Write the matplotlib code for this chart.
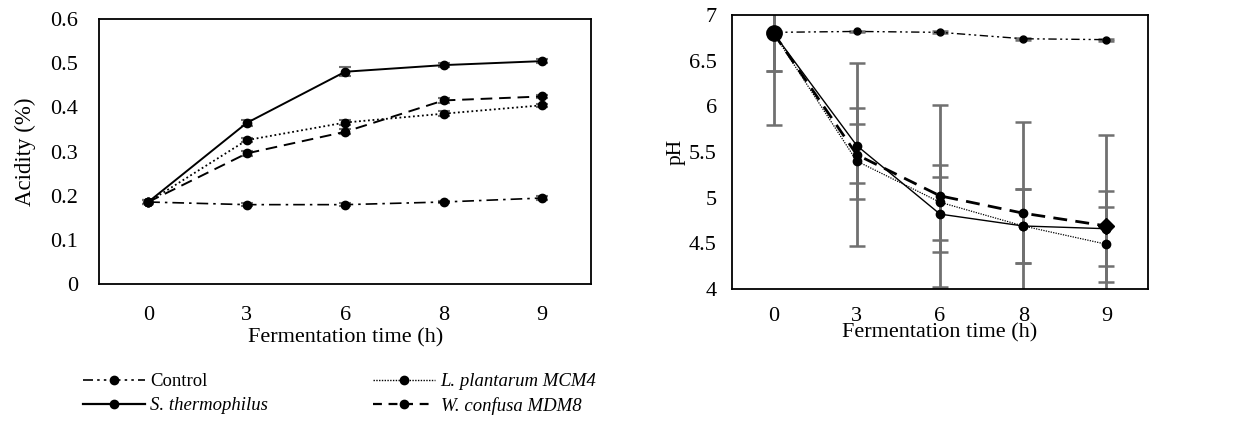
import matplotlib.pyplot as plt
from matplotlib.lines import Line2D

plt.rcParams['font.family'] = ['Liberation Serif', 'DejaVu Serif']

time_labels = ["0", "3", "6", "8", "9"]
series_names = ["Control", "S. thermophilus", "L. plantarum MCM4", "W. confusa MDM8"]

# acidity (%)
acid_control = [0.186, 0.180, 0.180, 0.186, 0.195]
acid_sthermo = [0.186, 0.365, 0.481, 0.496, 0.505]
acid_lplant = [0.186, 0.326, 0.366, 0.386, 0.405]
acid_wconf = [0.186, 0.296, 0.345, 0.416, 0.425]
acid_control_err = [0.004, 0.003, 0.003, 0.003, 0.004]
acid_sthermo_err = [0.004, 0.006, 0.010, 0.005, 0.004]
acid_lplant_err = [0.004, 0.005, 0.006, 0.006, 0.004]
acid_wconf_err = [0.004, 0.006, 0.006, 0.006, 0.004]

# pH
ph_control = [6.81, 6.82, 6.81, 6.74, 6.73]
ph_sthermo = [6.80, 5.57, 4.82, 4.69, 4.66]
ph_lplant = [6.80, 5.40, 4.95, 4.69, 4.49]
ph_wconf = [6.80, 5.47, 5.02, 4.83, 4.69]
ph_control_err = [0.01, 0.01, 0.01, 0.01, 0.01]
ph_sthermo_err = [0.41, 0.41, 0.41, 0.41, 0.41]
ph_lplant_err = [0.41, 0.41, 0.41, 0.41, 0.41]
ph_wconf_err = [1.0, 1.0, 1.0, 1.0, 1.0]

x = list(range(len(time_labels)))
err_color = "#707070"

fig = plt.figure(figsize=(12.53, 4.26), dpi=100)
ax1 = fig.add_axes([0.079, 0.333, 0.393, 0.622])
ax2 = fig.add_axes([0.5842, 0.3216, 0.332, 0.6432])

dashdotdot = (0, (6, 2.5, 1.5, 2.5, 1.5, 2.5))
dashdot = (0, (7, 3, 1.5, 3))

# left: acidity
styles1 = [
    (acid_control, acid_control_err, dashdot, 1.2, "o"),
    (acid_sthermo, acid_sthermo_err, "-", 1.4, "o"),
    (acid_lplant, acid_lplant_err, (0, (1, 1.5)), 1.3, "o"),
    (acid_wconf, acid_wconf_err, (0, (6, 3.5)), 1.4, "o"),
]
for vals, err, ls, lw, mk in styles1:
    ax1.errorbar(x, vals, yerr=err, fmt="none", ecolor=err_color, elinewidth=1.5,
                 capsize=4, capthick=1.5, zorder=2)
    ax1.plot(x, vals, color="black", linestyle=ls, linewidth=lw, marker=mk,
             markersize=6, zorder=3)

ax1.set_ylim(0, 0.6)
ax1.set_yticks([0, 0.1, 0.2, 0.3, 0.4, 0.5, 0.6])
ax1.set_yticklabels(["0", "0.1", "0.2", "0.3", "0.4", "0.5", "0.6"])

# right: pH
styles2 = [
    (ph_control, ph_control_err, dashdotdot, 1.0, "o", 5),
    (ph_sthermo, ph_sthermo_err, "-", 1.0, "o", 6),
    (ph_lplant, ph_lplant_err, (0, (1, 1)), 0.9, "o", 6),
    (ph_wconf, ph_wconf_err, (0, (5, 3)), 2.0, "o", 6),
]
for vals, err, ls, lw, mk, ms in styles2:
    ax2.errorbar(x, vals, yerr=err, fmt="none", ecolor=err_color, elinewidth=2,
                 capsize=6, capthick=1.8, zorder=2)
    ax2.plot(x, vals, color="black", linestyle=ls, linewidth=lw, marker=mk,
             markersize=ms, zorder=3)
ax2.plot(x[:1], ph_sthermo[:1], "o", color="black", markersize=11, zorder=4)
ax2.plot(x[-1:], ph_wconf[-1:], "D", color="black", markersize=8, zorder=4)

ax2.set_ylim(4, 7)
ax2.set_yticks([4, 4.5, 5, 5.5, 6, 6.5, 7])
ax2.set_yticklabels(["4", "4.5", "5", "5.5", "6", "6.5", "7"])

for ax in (ax1, ax2):
    ax.set_xlim(-0.5, len(x) - 0.5)
    ax.set_xticks(x)
    ax.set_xticklabels(time_labels)
    ax.tick_params(length=0, labelsize=16)
    for s in ax.spines.values():
        s.set_linewidth(1.3)

ax1.tick_params(axis="x", pad=16)
ax1.tick_params(axis="y", pad=15)
ax2.tick_params(axis="x", pad=13)
ax2.tick_params(axis="y", pad=11)

ax1.set_ylabel("Acidity (%)", fontsize=16.5, labelpad=10)
ax1.set_xlabel("Fermentation time (h)", fontsize=16, labelpad=2)
ax2.set_ylabel("pH", fontsize=15.5, labelpad=2)
ax2.set_xlabel("Fermentation time (h)", fontsize=16, labelpad=-2)

handles = [
    Line2D([], [], color="black", linestyle=dashdotdot, lw=1.2, marker="o", markersize=6),
    Line2D([], [], color="black", linestyle="-", lw=1.6, marker="o", markersize=6),
    Line2D([], [], color="black", linestyle=(0, (1, 1)), lw=1.0, marker="o", markersize=6),
    Line2D([], [], color="black", linestyle=(0, (4, 3)), lw=1.6, marker="o", markersize=6),
]
leg = fig.legend(handles, series_names, ncol=2, loc="center", bbox_to_anchor=(0.271, 0.075),
                 frameon=False, fontsize=13.5, handlelength=3.3, columnspacing=5.6,
                 labelspacing=0.37, handletextpad=0.3)
for t in leg.get_texts()[1:]:
    t.set_style("italic")

fig.savefig("out.png", dpi=100)
